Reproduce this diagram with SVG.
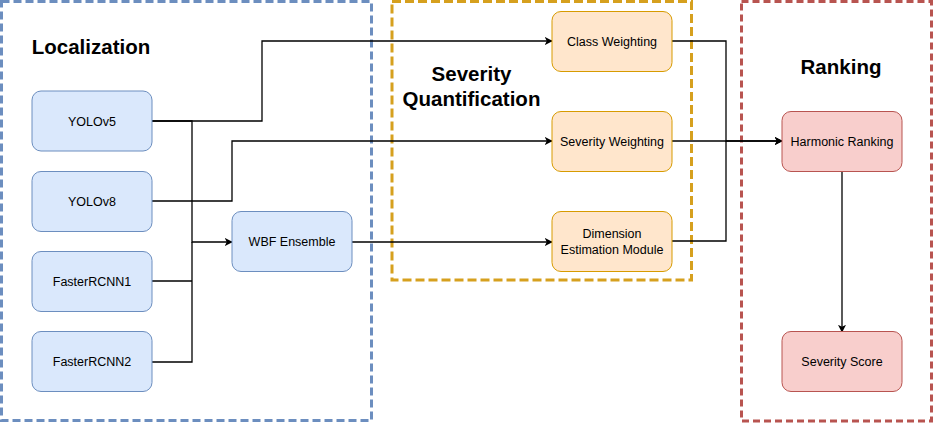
<svg xmlns="http://www.w3.org/2000/svg" width="933" height="423" viewBox="0 0 933 423">
<defs>
<marker id="arr" viewBox="0 0 10 10" refX="9" refY="5" markerWidth="8" markerHeight="8" markerUnits="userSpaceOnUse" orient="auto">
<path d="M0,0 L10,5 L0,10 L2.5,5 Z" fill="#000"/>
</marker>
</defs>
<style>
.grp{fill:none;stroke-width:3}
.blue{fill:#dae8fc;stroke:#6c8ebf;stroke-width:1}
.orange{fill:#ffe6cc;stroke:#d79b00;stroke-width:1}
.red{fill:#f8cecc;stroke:#b85450;stroke-width:1}
.t{font-family:"Liberation Sans",Arial,Helvetica,sans-serif;font-size:12.5px;fill:#000;text-anchor:middle}
.h{font-family:"Liberation Sans",Arial,Helvetica,sans-serif;font-size:20.5px;font-weight:bold;fill:#000;text-anchor:middle}
.c{fill:none;stroke:#000;stroke-width:1.3}
</style>
<rect width="933" height="423" fill="#fff"/>
<g id="group-localization">
<rect class="grp" x="1.5" y="1.5" width="370" height="419" stroke="#6c8ebf" stroke-dasharray="8 4"/>
<text class="h" x="91" y="54">Localization</text>
</g>
<g id="group-severity">
<rect class="grp" x="392" y="1.5" width="299.5" height="278.5" stroke="#d6a01e" stroke-dasharray="9 4"/>
<text class="h" x="471.5" y="81">Severity</text>
<text class="h" x="471.5" y="106">Quantification</text>
</g>
<g id="group-ranking">
<rect class="grp" x="741.5" y="1.5" width="190" height="419.5" stroke="#b85450" stroke-dasharray="7 4"/>
<text class="h" x="841" y="74">Ranking</text>
</g>
<g id="connectors">
<polyline class="c" points="152,121 262,121 262,41 552,41" marker-end="url(#arr)"/>
<polyline class="c" points="152,201 232,201 232,141 552,141" marker-end="url(#arr)"/>
<polyline class="c" points="152,121 192,121 192,242 232,242" marker-end="url(#arr)"/>
<polyline class="c" points="152,281 192,281"/>
<polyline class="c" points="152,362 192,362 192,242"/>
<polyline class="c" points="352,242 552,242" marker-end="url(#arr)"/>
<polyline class="c" points="672,41 726,41 726,141 782,141" marker-end="url(#arr)"/>
<polyline class="c" points="672,141 782,141" marker-end="url(#arr)"/>
<polyline class="c" points="672,241 726,241 726,141"/>
<polyline class="c" points="842,172 842,332" marker-end="url(#arr)"/>
</g>
<g id="yolov5"><rect class="blue" x="32" y="91" width="120" height="60" rx="9"/><text class="t" x="92" y="125.5">YOLOv5</text></g>
<g id="yolov8"><rect class="blue" x="32" y="171.5" width="120" height="60" rx="9"/><text class="t" x="92" y="206">YOLOv8</text></g>
<g id="fasterrcnn1"><rect class="blue" x="32" y="251.5" width="120" height="60" rx="9"/><text class="t" x="92" y="286">FasterRCNN1</text></g>
<g id="fasterrcnn2"><rect class="blue" x="32" y="331.5" width="120" height="60" rx="9"/><text class="t" x="92" y="366">FasterRCNN2</text></g>
<g id="wbf"><rect class="blue" x="232" y="211.5" width="120" height="60" rx="9"/><text class="t" x="292" y="246">WBF Ensemble</text></g>
<g id="class-weighting"><rect class="orange" x="552" y="11.5" width="120" height="60" rx="9"/><text class="t" x="612" y="46">Class Weighting</text></g>
<g id="severity-weighting"><rect class="orange" x="552" y="111.5" width="120" height="60" rx="9"/><text class="t" x="612" y="146">Severity Weighting</text></g>
<g id="dimension"><rect class="orange" x="552" y="211.5" width="120" height="60" rx="9"/><text class="t" x="612" y="238">Dimension</text><text class="t" x="612" y="253.5">Estimation Module</text></g>
<g id="harmonic"><rect class="red" x="782" y="111.5" width="120" height="60" rx="9"/><text class="t" x="842" y="146">Harmonic Ranking</text></g>
<g id="score"><rect class="red" x="782" y="331.5" width="120" height="60" rx="9"/><text class="t" x="842" y="366">Severity Score</text></g>
</svg>
